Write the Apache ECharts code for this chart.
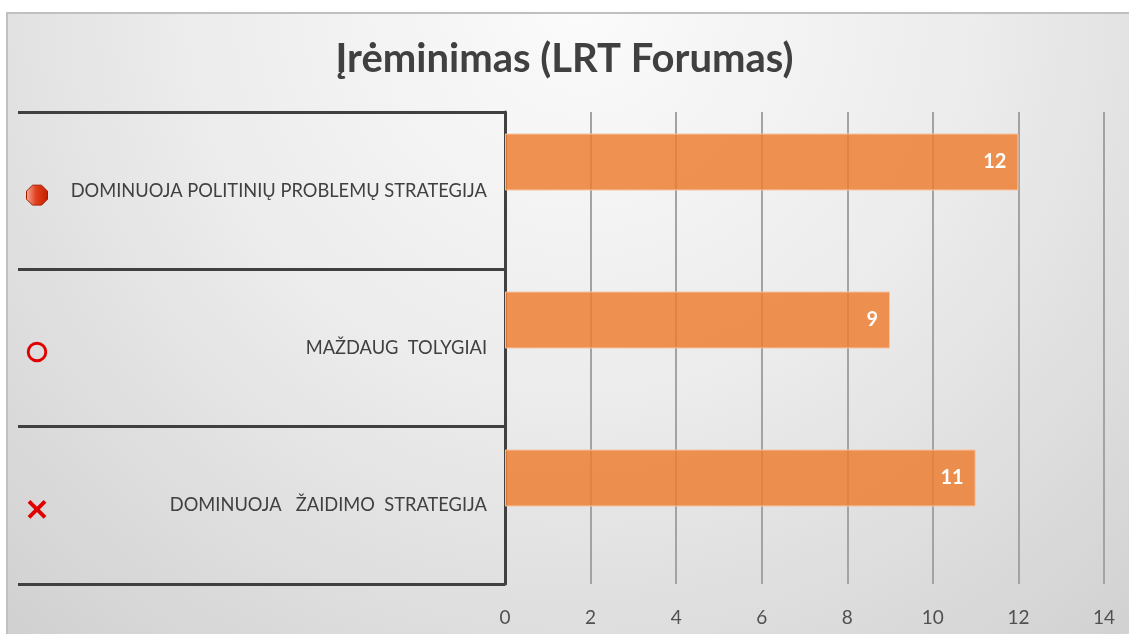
<!DOCTYPE html>
<html>
<head>
<meta charset="utf-8">
<script src="https://cdn.jsdelivr.net/npm/echarts@6/dist/echarts.min.js"></script>
<style>
html,body{margin:0;padding:0;background:#fff;}
#chart{width:1129px;height:634px;}
</style>
</head>
<body>
<div id="chart"></div>
<script>
// ---- data ----
var titleText = 'Įrėminimas (LRT Forumas)';
var categories = [
  'DOMINUOJA POLITINIŲ PROBLEMŲ STRATEGIJA',
  'MAŽDAUG  TOLYGIAI',
  'DOMINUOJA   ŽAIDIMO  STRATEGIJA'
];
var values = [12, 9, 11];
var xTicks = [0, 2, 4, 6, 8, 10, 12, 14];

// ---- icons ----
function svgUrl(s){ return 'data:image/svg+xml;charset=utf-8,' + encodeURIComponent(s); }
var iconOct = svgUrl("<svg xmlns='http://www.w3.org/2000/svg' width='22' height='30' viewBox='0 0 22 30'><defs><linearGradient id='g' x1='0' y1='0' x2='1' y2='0'><stop offset='0' stop-color='#f6a898'/><stop offset='0.45' stop-color='#e0401c'/><stop offset='1' stop-color='#c42000'/></linearGradient></defs><polygon points='6.5,9.5 15.5,9.5 21.5,15.5 21.5,23.5 15.5,29.5 6.5,29.5 0.5,23.5 0.5,15.5' fill='url(#g)' stroke='#a51a00' stroke-width='1'/></svg>");
var iconRing = svgUrl("<svg xmlns='http://www.w3.org/2000/svg' width='22' height='30' viewBox='0 0 22 30'><circle cx='11' cy='19' r='8.8' fill='none' stroke='#e00000' stroke-width='2.9'/></svg>");
var iconX = svgUrl("<svg xmlns='http://www.w3.org/2000/svg' width='22' height='30' viewBox='0 0 22 30'><line x1='3' y1='11' x2='19' y2='27' stroke='#e00000' stroke-width='3.9'/><line x1='19' y1='11' x2='3' y2='27' stroke='#e00000' stroke-width='3.9'/></svg>");
var icons = [iconOct, iconRing, iconX];

var rich = {
  t: { width: 439, align: 'right', fontFamily: 'Lato', fontSize: 18.3, color: '#404040' }
};
icons.forEach(function(u, i){
  rich['ic' + i] = { width: 22, height: 30, align: 'left', backgroundColor: { image: u } };
});

var chart = echarts.init(document.getElementById('chart'), null, {renderer: 'canvas'});
var option = {
  animation: false,
  backgroundColor: '#ffffff',
  graphic: [{
    type: 'rect', z: -10, silent: true,
    shape: { x: 7, y: 13, width: 1140, height: 640 },
    style: {
      fill: { type: 'radial', x: 580, y: 0, r: 880, global: true,
        colorStops: [
          { offset: 0, color: '#fbfbfb' },
          { offset: 0.45, color: '#ececec' },
          { offset: 1, color: '#cfcfcf' }
        ] },
      stroke: '#c0c0c0', lineWidth: 2
    }
  }],
  title: {
    text: titleText, left: 'center', top: 34,
    textStyle: { fontFamily: 'Lato', fontWeight: 'bold', fontSize: 40, color: '#404040' }
  },
  grid: [
    { left: 505, right: 25, top: 112, bottom: 50, containLabel: false },
    { left: 505, right: 25, top: 83, height: 474, containLabel: false }
  ],
  xAxis: [{
    gridIndex: 0, type: 'value', min: 0, max: 14, interval: 2,
    axisLine: { show: false }, axisTick: { show: false },
    splitLine: { show: true, lineStyle: { color: '#a3a3a3', width: 2 } },
    axisLabel: { margin: 24, fontFamily: 'Lato', fontSize: 19, color: '#505050',
      formatter: function(v){ return xTicks.indexOf(v) >= 0 ? String(v) : ''; } }
  }, {
    gridIndex: 1, type: 'value', min: 0, max: 14, interval: 2, show: false
  }],
  yAxis: [{
    gridIndex: 0, type: 'category', inverse: true, data: categories,
    axisLine: { show: true, lineStyle: { color: '#404040', width: 3 } },
    axisTick: { show: true, length: 487, lineStyle: { color: '#404040', width: 3 } },
    splitLine: { show: false },
    axisLabel: {
      margin: 18, rich: rich,
      formatter: function(v, i){ return '{ic' + i + '|}{t|' + v + '}'; }
    }
  }, {
    gridIndex: 1, type: 'category', inverse: true, data: categories, show: false
  }],
  series: [{
    type: 'bar', xAxisIndex: 1, yAxisIndex: 1,
    data: values, barWidth: 57,
    itemStyle: { color: 'rgba(237,125,49,0.84)', borderColor: '#f7c4a0', borderWidth: 1 },
    label: { show: true, position: 'insideRight', distance: 12,
      color: '#ffffff', fontFamily: 'Lato', fontWeight: 'bold', fontSize: 20 }
  }]
};
chart.setOption(option);
</script>
</body>
</html>
